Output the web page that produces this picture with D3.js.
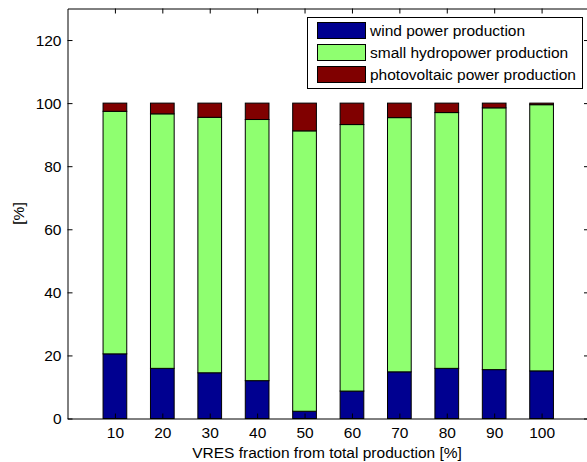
<!DOCTYPE html>
<html>
<head>
<meta charset="utf-8">
<script src="https://cdn.jsdelivr.net/npm/d3@7/dist/d3.min.js"></script>
<style>
  html, body { margin: 0; padding: 0; background: #fff; }
  svg { display: block; font-family: "Liberation Sans", Arial, Helvetica, sans-serif; }
</style>
</head>
<body>
<svg id="chart" width="587" height="462"></svg>
<script>
// ---- data ----
const categories = [10, 20, 30, 40, 50, 60, 70, 80, 90, 100];
const wind  = [20.5, 15.9, 14.5, 12.0, 2.3, 8.7, 14.8, 15.9, 15.5, 15.1];
const hydro = [76.9, 80.7, 81.0, 82.8, 88.9, 84.5, 80.6, 81.1, 83.0, 84.4];
const pv    = [2.6, 3.4, 4.5, 5.2, 8.8, 6.8, 4.6, 3.0, 1.5, 0.5];
const seriesNames = ["wind power production", "small hydropower production", "photovoltaic power production"];
const seriesColors = ["#000090", "#8fff70", "#800000"];
const yTicks = [0, 20, 40, 60, 80, 100, 120];
const xLabel = "VRES fraction from total production [%]";
const yLabel = "[%]";

// ---- layout ----
const svg = d3.select("#chart");
const pLeft = 67.5, pRight = 589, pTop = 8.5, pBottom = 418.5;
const fs = 15.5;

const x = d3.scaleLinear().domain([0, 11]).range([pLeft, pRight]);
const y = d3.scaleLinear().domain([0, 130]).range([pBottom, pTop]);
const barW = 0.5;

const rows = categories.map((c, i) => ({ c, i, vals: [wind[i], hydro[i], pv[i]] }));
const stacked = d3.stack().keys([0, 1, 2]).value((d, k) => d.vals[k])(rows);

const g = svg.append("g");
g.append("rect").attr("x", pLeft).attr("y", pTop).attr("width", pRight - pLeft).attr("height", pBottom - pTop).attr("fill", "#fff");

stacked.forEach((layer, k) => {
  g.selectAll(null).data(layer).enter().append("rect")
    .attr("x", d => x(d.data.i + 1 - barW / 2))
    .attr("width", d => x(d.data.i + 1 + barW / 2) - x(d.data.i + 1 - barW / 2))
    .attr("y", d => y(d[1]))
    .attr("height", d => y(d[0]) - y(d[1]))
    .attr("fill", seriesColors[k])
    .attr("stroke", "#000")
    .attr("stroke-width", 1);
});

// axes (Matlab style, ticks inward, box)
const axisColor = "#000";
const tickLen = 5;
const xAxisB = d3.axisBottom(x).tickValues(categories.map((c, i) => i + 1)).tickFormat((d) => categories[d - 1]).tickSizeInner(-tickLen).tickSizeOuter(0).tickPadding(8);
const xAxisT = d3.axisTop(x).tickValues(categories.map((c, i) => i + 1)).tickFormat("").tickSizeInner(-tickLen).tickSizeOuter(0);
const yAxisL = d3.axisLeft(y).tickValues(yTicks).tickSizeInner(-tickLen).tickSizeOuter(0).tickPadding(6);
const yAxisR = d3.axisRight(y).tickValues(yTicks).tickFormat("").tickSizeInner(-tickLen).tickSizeOuter(0);

function style(sel) {
  sel.selectAll("path").attr("stroke", axisColor).attr("stroke-width", 1);
  sel.selectAll("line").attr("stroke", axisColor).attr("stroke-width", 1);
  sel.selectAll("text").attr("font-size", fs).attr("fill", "#000").attr("font-family", "Liberation Sans, Arial, sans-serif");
}
style(svg.append("g").attr("transform", `translate(0,${pBottom})`).call(xAxisB));
style(svg.append("g").attr("transform", `translate(0,${pTop})`).call(xAxisT));
style(svg.append("g").attr("transform", `translate(${pLeft},0)`).call(yAxisL));
style(svg.append("g").attr("transform", `translate(${pRight},0)`).call(yAxisR));

svg.append("text").attr("x", (191 + 463) / 2).attr("y", 458).attr("text-anchor", "middle")
  .attr("font-size", fs).text(xLabel);
svg.append("text").attr("transform", `translate(24,${(pTop + pBottom) / 2}) rotate(-90)`).attr("text-anchor", "middle")
  .attr("font-size", fs).text(yLabel);

// legend
const lg = svg.append("g");
lg.append("rect").attr("x", 307.5).attr("y", 17.5).attr("width", 275).attr("height", 71)
  .attr("fill", "#fff").attr("stroke", "#000").attr("stroke-width", 1);
seriesNames.forEach((name, k) => {
  const ry = 22.5 + k * 22;
  lg.append("rect").attr("x", 317.5).attr("y", ry).attr("width", 48).attr("height", 16)
    .attr("fill", seriesColors[k]).attr("stroke", "#000").attr("stroke-width", 1);
  lg.append("text").attr("x", 370).attr("y", ry + 13.5).attr("font-size", fs).text(name);
});
</script>
</body>
</html>
